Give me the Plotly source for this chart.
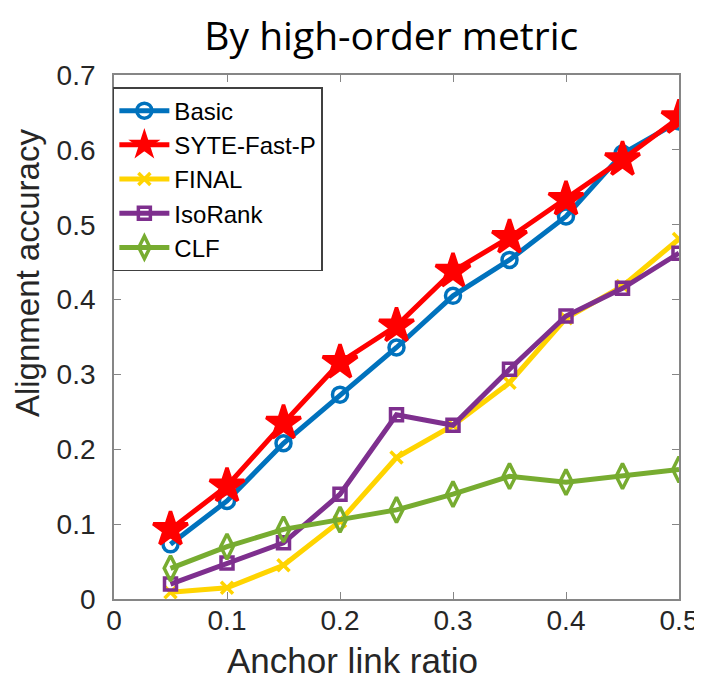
import plotly.graph_objects as go

x_ratio = [0.05, 0.10, 0.15, 0.20, 0.25, 0.30, 0.35, 0.40, 0.45, 0.50]
basic = [0.073, 0.131, 0.208, 0.273, 0.336, 0.405, 0.453, 0.511, 0.595, 0.638]
syte = [0.093, 0.151, 0.235, 0.316, 0.365, 0.438, 0.483, 0.534, 0.587, 0.643]
final = [0.009, 0.015, 0.045, 0.104, 0.189, 0.232, 0.289, 0.375, 0.418, 0.481]
isorank = [0.020, 0.048, 0.075, 0.140, 0.246, 0.232, 0.307, 0.378, 0.415, 0.462]
clf = [0.041, 0.070, 0.093, 0.106, 0.119, 0.140, 0.164, 0.156, 0.164, 0.173]

x_ticks = [0, 0.1, 0.2, 0.3, 0.4, 0.5]
x_ticklabels = ["0", "0.1", "0.2", "0.3", "0.4", "0.5"]
y_ticks = [0, 0.1, 0.2, 0.3, 0.4, 0.5, 0.6, 0.7]
y_ticklabels = ["0", "0.1", "0.2", "0.3", "0.4", "0.5", "0.6", "0.7"]

series = [
    ("Basic", basic, "#0072BD", "circle-open", 15),
    ("SYTE-Fast-P", syte, "#FF0000", "star", 26),
    ("FINAL", final, "#FFD400", "x-thin-open", 12),
    ("IsoRank", isorank, "#7E2F8E", "square-open", 12),
    ("CLF", clf, "#77AC30", "diamond-tall-open", 18),
]

fig = go.Figure()
for name, vals, color, sym, size in series:
    fig.add_trace(go.Scatter(
        x=x_ratio, y=vals, name=name, mode="lines+markers",
        line=dict(color=color, width=5),
        marker=dict(symbol=sym, size=size, color=color,
                    line=dict(color=color, width=3.5)),
    ))

tick_font = dict(family="Liberation Sans, Arial", size=28, color="#262626")
axis_common = dict(
    showgrid=False, zeroline=False, showline=True, mirror="ticks",
    linecolor="#868686", linewidth=1.8, ticks="inside", ticklen=7,
    tickcolor="#868686", tickfont=tick_font,
)

fig.update_layout(
    width=702, height=679,
    paper_bgcolor="white", plot_bgcolor="white",
    margin=dict(l=106, r=23, t=67, b=88),
    title=dict(text="By high-order metric", x=0.546, xanchor="center", y=0.958, yanchor="middle",
               font=dict(family="Open Sans, Lato, sans-serif", size=39, color="black")),
    xaxis=dict(range=[0, 0.5], tickvals=x_ticks, ticktext=x_ticklabels,
               ticklabelstandoff=-5, **axis_common),
    yaxis=dict(range=[0, 0.7], tickvals=y_ticks, ticktext=y_ticklabels,
               ticklabelstandoff=11, **axis_common),
    legend=dict(x=-0.002, y=0.977, xanchor="left", yanchor="top",
                bgcolor="white", bordercolor="#404040", borderwidth=1.5,
                font=dict(family="Liberation Sans, Arial", size=24, color="black"),
                itemwidth=50, tracegroupgap=0),
    showlegend=True,
    annotations=[
        dict(text="Anchor link ratio", xref="paper", yref="paper", x=0.422, y=-0.117,
             xanchor="center", yanchor="middle", showarrow=False,
             font=dict(family="Liberation Sans, Arial", size=35, color="#262626")),
        dict(text="Alignment accuracy", xref="paper", yref="paper", x=-0.154, y=0.622,
             xanchor="center", yanchor="middle", showarrow=False, textangle=-90,
             font=dict(family="Liberation Sans, Arial", size=33, color="#262626")),
    ],
)

fig.write_html("out.html")
